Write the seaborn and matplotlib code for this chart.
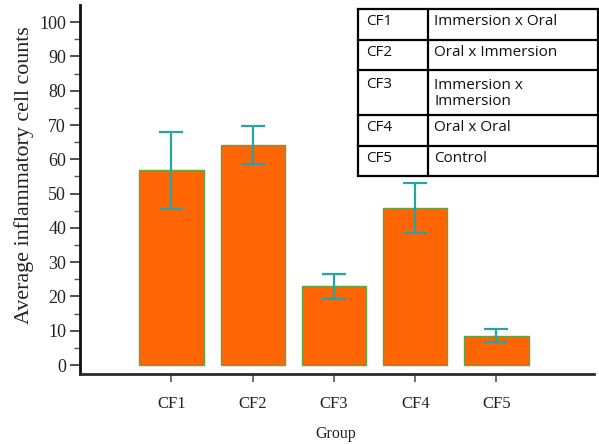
import numpy as np
import pandas as pd
import matplotlib
matplotlib.use('Agg')
import matplotlib.pyplot as plt
import seaborn as sns

# Data
groups = ['CF1', 'CF2', 'CF3', 'CF4', 'CF5']
mean_counts = [56.8, 64.1, 23.0, 45.8, 8.6]
err_counts = [11.3, 5.5, 3.7, 7.4, 1.9]

table_codes = ['CF1', 'CF2', 'CF3', 'CF4', 'CF5']
table_treatments = ['Immersion x Oral', 'Oral x Immersion', 'Immersion x\nImmersion', 'Oral x Oral', 'Control']

bar_col = '#ff6505'
edge_col = '#5fa63a'
err_col = '#2aa3a3'

sns.set_style('ticks')
plt.rcParams['font.family'] = ['Liberation Serif', 'DejaVu Serif']

df = pd.DataFrame({'group': groups, 'count': mean_counts})

fig = plt.figure(figsize=(5.99, 4.44), dpi=100)
ax = fig.add_axes([80 / 599, 1 - 374 / 444, (594 - 80) / 599, (374 - 5) / 444])

sns.barplot(data=df, x='group', y='count', color=bar_col, saturation=1,
            edgecolor=edge_col, linewidth=1.0, width=0.79, errorbar=None, ax=ax)
ax.errorbar(np.arange(len(groups)), mean_counts, yerr=err_counts, fmt='none',
            ecolor=err_col, elinewidth=1.6, capsize=8.5, capthick=1.6, zorder=5)

ax.set_xlim(-1.125, 5.2)
ax.set_ylim(-2.6, 105)
ax.set_yticks(np.arange(0, 101, 10))
ax.set_yticks(np.arange(5, 100, 10), minor=True)

for s in ['top', 'right']:
    ax.spines[s].set_visible(False)
ax.spines['left'].set_linewidth(2.0)
ax.spines['left'].set_color('#111111')
ax.spines['bottom'].set_linewidth(2.0)
ax.spines['bottom'].set_color('#2a2a2a')

ax.tick_params(axis='y', which='major', length=7, width=1.2, color='#333333',
               labelsize=13, pad=3, labelcolor='#222222')
ax.tick_params(axis='y', which='minor', length=4, width=1.0, color='#555555')
ax.tick_params(axis='x', which='major', length=6, width=1.2, color='#555555',
               labelsize=12, pad=10, labelcolor='#222222')

ax.set_xlabel('Group', fontsize=11.5, color='#222222')
ax.xaxis.set_label_coords(0.497, -0.14)
ax.set_ylabel('Average inflammatory cell counts', fontsize=15.8, color='#222222')
ax.yaxis.set_label_coords(-0.09, 0.539)

# Legend table in the top right corner
tax = fig.add_axes([0, 0, 1, 1], zorder=10)
tax.set_xlim(0, 599)
tax.set_ylim(444, 0)
tax.axis('off')
row_lines = [9, 40, 70, 115, 146, 176]
x_left, x_mid, x_right = 358, 428, 598
tax_font = ['Open Sans', 'DejaVu Sans']
tax.fill_between([x_left, x_right], row_lines[0], row_lines[-1], color='white', zorder=0)
for yl in row_lines:
    tax.plot([x_left, x_right], [yl, yl], color='black', lw=1.6, solid_capstyle='projecting')
for xl in [x_left, x_mid, x_right]:
    tax.plot([xl, xl], [row_lines[0], row_lines[-1]], color='black', lw=1.6)
for i, (code, treat) in enumerate(zip(table_codes, table_treatments)):
    top = row_lines[i]
    bot = row_lines[i + 1]
    if '\n' in treat:
        tax.text(366, top + 14, code, fontsize=11, family=tax_font,
                 va='center', ha='left', color='#111111')
        tax.text(434, (top + bot) / 2 + 1, treat, fontsize=11, family=tax_font,
                 va='center', ha='left', color='#111111', linespacing=1.15)
    else:
        mid = (top + bot) / 2 - 3
        tax.text(366, mid, code, fontsize=11, family=tax_font,
                 va='center', ha='left', color='#111111')
        tax.text(434, mid, treat, fontsize=11, family=tax_font,
                 va='center', ha='left', color='#111111')

fig.savefig('out.png', dpi=100)
